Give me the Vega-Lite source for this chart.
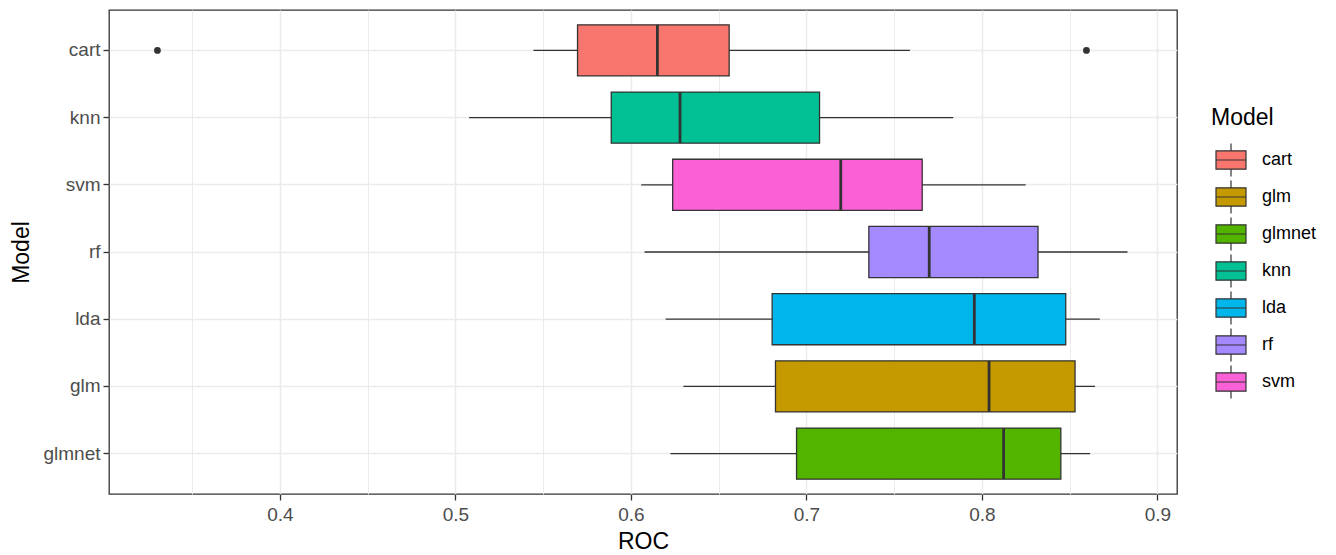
{
  "$schema": "https://vega.github.io/schema/vega-lite/v6.json",
  "autosize": {"type": "none"},
  "padding": {"left": 109, "top": 10, "right": 159, "bottom": 61},
  "width": 1068,
  "height": 484,
  "background": "white",
  "datasets": {
    "stats": [
      {"Model": "cart", "lower": 0.5445, "q1": 0.5696, "median": 0.6151, "q3": 0.6560, "upper": 0.7590},
      {"Model": "knn", "lower": 0.5078, "q1": 0.5888, "median": 0.6280, "q3": 0.7075, "upper": 0.7837},
      {"Model": "svm", "lower": 0.6059, "q1": 0.6238, "median": 0.7196, "q3": 0.7660, "upper": 0.8250},
      {"Model": "rf", "lower": 0.6078, "q1": 0.7356, "median": 0.7700, "q3": 0.8320, "upper": 0.8830},
      {"Model": "lda", "lower": 0.6198, "q1": 0.6805, "median": 0.7957, "q3": 0.8478, "upper": 0.8672},
      {"Model": "glm", "lower": 0.6299, "q1": 0.6824, "median": 0.8041, "q3": 0.8531, "upper": 0.8645},
      {"Model": "glmnet", "lower": 0.6225, "q1": 0.6944, "median": 0.8124, "q3": 0.8450, "upper": 0.8617}
    ],
    "outliers": [
      {"Model": "cart", "ROC": 0.3302},
      {"Model": "cart", "ROC": 0.8596}
    ]
  },
  "encoding": {
    "y": {
      "field": "Model",
      "type": "nominal",
      "scale": {"domain": ["cart", "knn", "svm", "rf", "lda", "glm", "glmnet"], "paddingInner": 0.24, "paddingOuter": 0.221},
      "axis": {
        "title": "Model",
        "grid": true,
        "gridColor": "#EBEBEB",
        "gridWidth": 1.5,
        "domain": false,
        "tickColor": "#333333",
        "tickSize": 6,
        "tickWidth": 1.3,
        "labelPadding": 3,
        "labelFontSize": 19,
        "labelColor": "#4D4D4D",
        "titleFontSize": 23,
        "titleColor": "black",
        "titleFontWeight": "normal",
        "titleX": -81,
        "titleY": 242,
        "titleAngle": 270,
        "titleAlign": "center",
        "titleBaseline": "alphabetic"
      }
    }
  },
  "layer": [
    {
      "data": {"name": "stats"},
      "mark": {"type": "rule", "color": "#333333", "strokeWidth": 1.3},
      "encoding": {
        "x": {
          "field": "lower",
          "type": "quantitative",
          "scale": {"domain": [0.3026, 0.9112], "nice": false, "zero": false},
          "axis": {
            "title": "ROC",
            "values": [0.35, 0.4, 0.45, 0.5, 0.55, 0.6, 0.65, 0.7, 0.75, 0.8, 0.85, 0.9],
            "labelExpr": "abs(datum.value*10 - round(datum.value*10)) < 0.01 ? format(datum.value, '.1f') : ''",
            "grid": true,
            "gridColor": "#EBEBEB",
            "gridWidth": {"condition": {"test": "abs(datum.value*10 - round(datum.value*10)) > 0.01", "value": 1.0}, "value": 1.5},
            "tickOpacity": {"condition": {"test": "abs(datum.value*10 - round(datum.value*10)) > 0.01", "value": 0}, "value": 1},
            "domain": false,
            "tickColor": "#333333",
            "tickSize": 6,
            "tickWidth": 1.3,
            "labelPadding": 5,
            "labelFontSize": 19,
            "labelColor": "#4D4D4D",
            "labelFlush": false,
            "labelOverlap": false,
            "titleFontSize": 23,
            "titleColor": "black",
            "titleFontWeight": "normal",
            "titleY": 54,
            "titleBaseline": "alphabetic"
          }
        },
        "x2": {"field": "upper"}
      }
    },
    {
      "data": {"name": "stats"},
      "mark": {"type": "bar", "stroke": "#333333", "strokeWidth": 1.3, "opacity": 1},
      "encoding": {
        "x": {"field": "q1", "type": "quantitative"},
        "x2": {"field": "q3"},
        "color": {
          "field": "Model",
          "type": "nominal",
          "scale": {
            "domain": ["cart", "glm", "glmnet", "knn", "lda", "rf", "svm"],
            "range": ["#F8766D", "#C49A00", "#53B400", "#00C094", "#00B6EB", "#A58AFF", "#FB61D7"]
          },
          "legend": {
            "title": "Model",
            "orient": "none",
            "legendX": 1102,
            "legendY": 97,
            "direction": "vertical",
            "padding": 0,
            "titleFontSize": 23,
            "titleFontWeight": "normal",
            "titleColor": "black",
            "titlePadding": 14,
            "labelFontSize": 18,
            "labelColor": "black",
            "labelOffset": 15,
            "symbolOffset": 4,
            "symbolType": "M-1,-0.61L1,-0.61L1,0.61L-1,0.61Z M-1,0L1,0 M0,-0.61L0,-1.1 M0,0.61L0,1.1",
            "symbolSize": 900,
            "symbolStrokeColor": "#333333",
            "symbolStrokeWidth": 1.2,
            "symbolOpacity": 1,
            "rowPadding": -1
          }
        }
      }
    },
    {
      "data": {"name": "stats"},
      "mark": {"type": "tick", "color": "#333333", "thickness": 2.8, "size": 51, "opacity": 1},
      "encoding": {
        "x": {"field": "median", "type": "quantitative"}
      }
    },
    {
      "data": {"name": "outliers"},
      "mark": {"type": "circle", "color": "#333333", "size": 46, "opacity": 1},
      "encoding": {
        "x": {"field": "ROC", "type": "quantitative"}
      }
    }
  ],
  "config": {
    "font": "Liberation Sans",
    "view": {"stroke": "#333333", "strokeWidth": 1.3}
  }
}
